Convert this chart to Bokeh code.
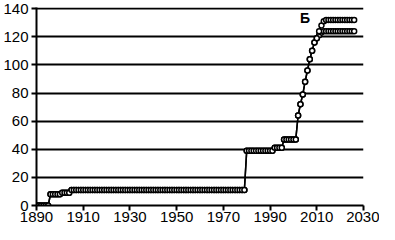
from bokeh.plotting import figure
from bokeh.models import Range1d, FixedTicker
from bokeh.core.properties import value
from bokeh.embed import file_html
from bokeh.resources import INLINE

years = list(range(1890, 2027))

series_lower = [
    0, 0, 0, 0, 0, 0, 8, 8, 8, 8,            # 1890s
    8, 9, 9, 9, 9, 11, 11, 11, 11, 11,       # 1900s
    11, 11, 11, 11, 11, 11, 11, 11, 11, 11,  # 1910s
    11, 11, 11, 11, 11, 11, 11, 11, 11, 11,  # 1920s
    11, 11, 11, 11, 11, 11, 11, 11, 11, 11,  # 1930s
    11, 11, 11, 11, 11, 11, 11, 11, 11, 11,  # 1940s
    11, 11, 11, 11, 11, 11, 11, 11, 11, 11,  # 1950s
    11, 11, 11, 11, 11, 11, 11, 11, 11, 11,  # 1960s
    11, 11, 11, 11, 11, 11, 11, 11, 11, 11,  # 1970s
    39, 39, 39, 39, 39, 39, 39, 39, 39, 39,  # 1980s
    39, 39, 41, 41, 41, 41, 47, 47, 47, 47,  # 1990s
    47, 47, 64, 72, 79, 88, 96, 104, 110, 116,  # 2000s
    119, 121, 123, 124, 124, 124, 124, 124, 124, 124,  # 2010s
    124, 124, 124, 124, 124, 124, 124,       # 2020-2026
]

series_upper = [
    0, 0, 0, 0, 0, 0, 8, 8, 8, 8,
    8, 9, 9, 9, 9, 11, 11, 11, 11, 11,
    11, 11, 11, 11, 11, 11, 11, 11, 11, 11,
    11, 11, 11, 11, 11, 11, 11, 11, 11, 11,
    11, 11, 11, 11, 11, 11, 11, 11, 11, 11,
    11, 11, 11, 11, 11, 11, 11, 11, 11, 11,
    11, 11, 11, 11, 11, 11, 11, 11, 11, 11,
    11, 11, 11, 11, 11, 11, 11, 11, 11, 11,
    11, 11, 11, 11, 11, 11, 11, 11, 11, 11,
    39, 39, 39, 39, 39, 39, 39, 39, 39, 39,
    39, 39, 41, 41, 41, 41, 47, 47, 47, 47,
    47, 47, 64, 72, 79, 88, 96, 104, 110, 116,
    119, 124, 128, 131, 132, 132, 132, 132, 132, 132,
    132, 132, 132, 132, 132, 132, 132,
]

x_ticks = [1890, 1910, 1930, 1950, 1970, 1990, 2010, 2030]
y_ticks = [0, 20, 40, 60, 80, 100, 120, 140]
label_text = ["Б"]
label_x = [2005]
label_y = [133]

FONT = "Liberation Sans"

p = figure(width=379, height=224, output_backend="svg", toolbar_location=None,
           x_range=Range1d(1890, 2030), y_range=Range1d(0, 140.8),
           min_border_left=4, min_border_right=16, min_border_top=7,
           min_border_bottom=0)
p.outline_line_color = None
p.background_fill_color = "white"
p.border_fill_color = "white"

p.xgrid.visible = False
p.ygrid.ticker = FixedTicker(ticks=y_ticks)
p.ygrid.grid_line_color = "black"
p.ygrid.grid_line_width = 2

for ax, ticks in ((p.xaxis, x_ticks), (p.yaxis, y_ticks)):
    ax.ticker = FixedTicker(ticks=ticks)
    ax.axis_line_color = "black"
    ax.axis_line_width = 2
    ax.major_tick_line_color = "black"
    ax.major_tick_line_width = 2
    ax.major_tick_out = 5
    ax.major_tick_in = 0
    ax.minor_tick_line_color = None
    ax.major_label_text_font = FONT
    ax.major_label_text_font_size = "15px"
    ax.major_label_text_color = "black"
    ax.major_label_standoff = 3
p.xaxis.major_label_standoff = 1

for ys in (series_lower, series_upper):
    p.line(years, ys, line_color="black", line_width=1.5)
    p.scatter(years, ys, marker="circle", size=5, fill_color="white",
              line_color="black", line_width=1.5)

p.text(x=label_x, y=label_y, text=label_text, text_font=value(FONT),
       text_font_style="bold", text_font_size="14px", text_color="black",
       text_align="center", text_baseline="middle")

open("out.html", "w").write(file_html(p, INLINE))
